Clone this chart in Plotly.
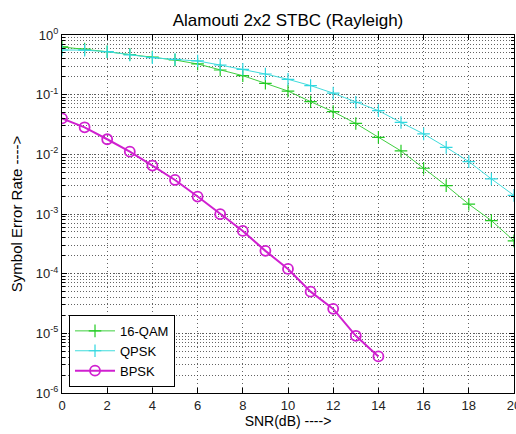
import plotly.graph_objects as go

snr = list(range(0, 21))
ser_16qam = [0.630, 0.583, 0.525, 0.471, 0.428, 0.381, 0.327, 0.259, 0.208, 0.155, 0.115,
             0.0763, 0.0519, 0.0329, 0.0193, 0.0114, 0.00585, 0.00299, 0.00146, 0.000775, 0.000355]
ser_qpsk = [0.561, 0.558, 0.525, 0.462, 0.417, 0.389, 0.367, 0.314, 0.266, 0.222, 0.181,
            0.142, 0.106, 0.0746, 0.0540, 0.0342, 0.0220, 0.0131, 0.00755, 0.00387, 0.00205]
snr_bpsk = list(range(0, 15))
ser_bpsk = [0.040, 0.0284, 0.0179, 0.0111, 0.00648, 0.00372, 0.00196, 0.000993, 0.000521,
            0.000241, 0.000120, 5.0e-5, 2.57e-5, 9.1e-6, 4.1e-6]

ytick_vals = [1e0, 1e-1, 1e-2, 1e-3, 1e-4, 1e-5, 1e-6]
ytick_text = ["10<sup>0</sup>", "10<sup>-1</sup>", "10<sup>-2</sup>", "10<sup>-3</sup>",
              "10<sup>-4</sup>", "10<sup>-5</sup>", "10<sup>-6</sup>"]
xtick_vals = [0, 2, 4, 6, 8, 10, 12, 14, 16, 18, 20]

FONT = "Liberation Sans, Arial, Helvetica, sans-serif"
GRID = "rgba(60,60,60,0.8)"

fig = go.Figure()
fig.add_trace(go.Scatter(
    x=snr, y=ser_16qam, name="16-QAM", mode="lines+markers",
    line=dict(color="#3fcf3f", width=1),
    marker=dict(symbol="cross-thin", size=9, line=dict(color="#22cc22", width=1.2)),
))
fig.add_trace(go.Scatter(
    x=snr, y=ser_qpsk, name="QPSK", mode="lines+markers",
    line=dict(color="#40dcdc", width=1),
    marker=dict(symbol="cross-thin", size=9, line=dict(color="#30d8e0", width=1.2)),
))
fig.add_trace(go.Scatter(
    x=snr_bpsk, y=ser_bpsk, name="BPSK", mode="lines+markers",
    line=dict(color="#d020d0", width=2),
    marker=dict(symbol="circle-open", size=10, line=dict(color="#d020d0", width=1.8)),
))

fig.update_layout(
    width=516, height=434,
    margin=dict(l=62, r=2, t=35, b=41),
    paper_bgcolor="white", plot_bgcolor="white",
    font=dict(family=FONT, size=12, color="black"),
    title=dict(text="Alamouti 2x2 STBC (Rayleigh)", x=(62 + 514) / 2 / 516, xanchor="center",
               y=1 - 20 / 434, yanchor="middle", font=dict(size=17, family=FONT, color="black")),
    showlegend=True,
    legend=dict(x=0.0155, y=0.017, xanchor="left", yanchor="bottom",
                bgcolor="white", bordercolor="black", borderwidth=1,
                font=dict(size=13, family=FONT, color="black"),
                tracegroupgap=0, itemwidth=40),
)
fig.update_xaxes(
    range=[0, 20], tickvals=xtick_vals, showline=True, mirror="ticks", linecolor="black", linewidth=1,
    ticks="inside", ticklen=5, tickcolor="black", zeroline=False, automargin=False,
    ticklabeloverflow="allow",
    showgrid=True, gridcolor=GRID, griddash="1px,3px", gridwidth=1,
    title=dict(text="SNR(dB) ---->", font=dict(size=14, family=FONT), standoff=3),
    tickfont=dict(size=13, family=FONT, color="#222"),
)
fig.update_yaxes(
    type="log", range=[-6, 0], tickvals=ytick_vals, ticktext=ytick_text,
    showline=True, mirror="ticks", linecolor="black", linewidth=1,
    ticks="inside", ticklen=5, tickcolor="black", zeroline=False, automargin=False,
    showgrid=True, gridcolor=GRID, griddash="1px,3px", gridwidth=1,
    minor=dict(dtick="D1", showgrid=True, gridcolor=GRID, griddash="1px,2px", gridwidth=1,
               ticks="inside", ticklen=3, tickcolor="black"),
    title=dict(text="Symbol Error Rate ---->", font=dict(size=15, family=FONT), standoff=9),
    tickfont=dict(size=13, family=FONT, color="#222"),
)

fig.write_html(
    "out.html",
    config={"displayModeBar": False},
    post_script="document.body.style.margin='0';document.body.style.overflow='hidden';",
)
